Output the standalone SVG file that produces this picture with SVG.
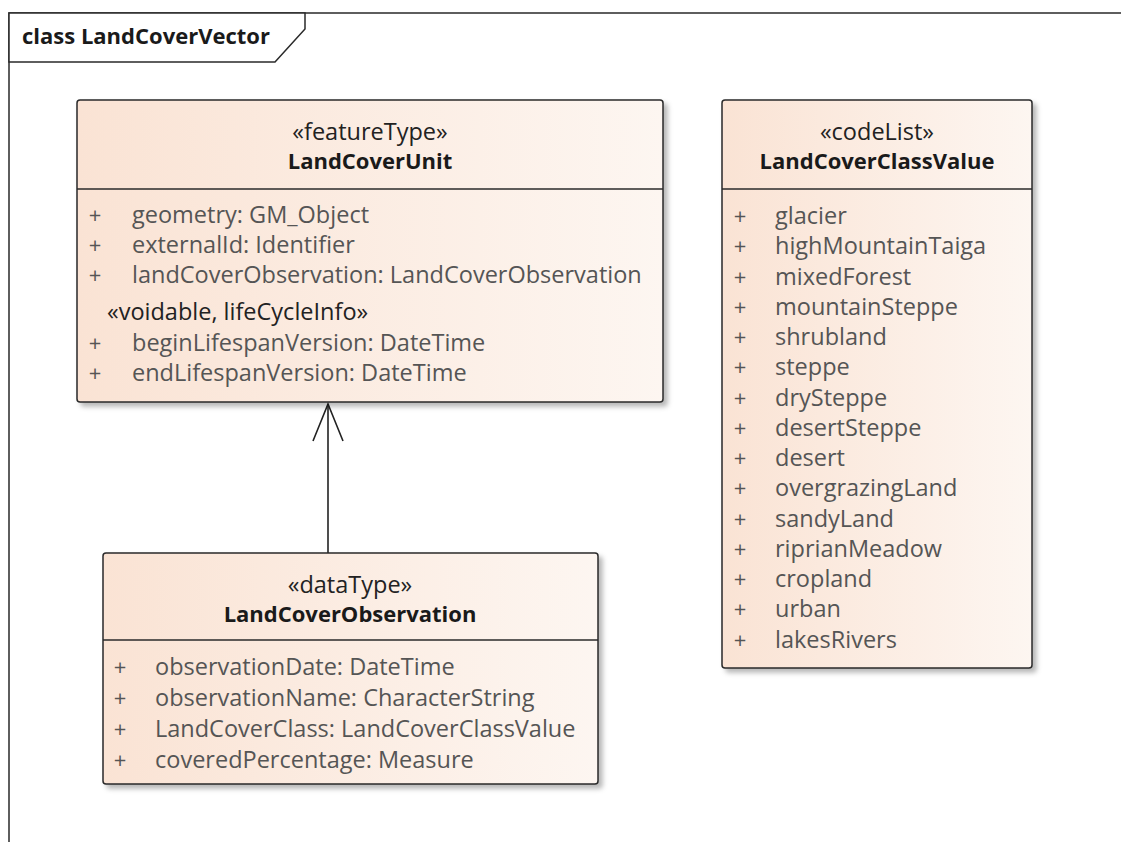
<svg xmlns="http://www.w3.org/2000/svg" width="1121" height="842" viewBox="0 0 1121 842">
<defs>
<linearGradient id="fillGrad" x1="0" y1="0" x2="1" y2="0">
<stop offset="0" stop-color="#fae3d4"/>
<stop offset="1" stop-color="#fdf6f1"/>
</linearGradient>
<filter id="shadow" x="-5%" y="-5%" width="115%" height="115%">
<feDropShadow dx="4" dy="4" stdDeviation="2.5" flood-color="#000" flood-opacity="0.28"/>
</filter>
<marker id="openArrow" viewBox="0 0 40 32" refX="38" refY="16" markerWidth="40" markerHeight="32" markerUnits="userSpaceOnUse" orient="auto">
<path d="M1,1 L38,16 L1,31" fill="none" stroke="#222" stroke-width="1.6"/>
</marker>
</defs>
<style>
.box{fill:url(#fillGrad);stroke:#2a2a2a;stroke-width:1.5;filter:url(#shadow)}
.div{stroke:#2a2a2a;stroke-width:1.5}
.st{font-family:"Open Sans","Noto Sans",sans-serif;font-size:23.5px;fill:#222;text-anchor:middle}
.nm{font-family:"Open Sans","Noto Sans",sans-serif;font-size:22px;font-weight:bold;fill:#1a1a1a;text-anchor:middle}
.at{font-family:"Open Sans","Noto Sans",sans-serif;font-size:23.5px;fill:#555}
.vs{font-family:"Open Sans","Noto Sans",sans-serif;font-size:23.5px;fill:#222}
.pl{font-family:"Open Sans","Noto Sans",sans-serif;font-size:22px;fill:#555;text-anchor:middle}
.conn{stroke:#222;stroke-width:1.6;fill:none}
</style>
<rect width="1121" height="842" fill="#ffffff"/>
<g id="frame">
<rect x="9" y="13" width="1125" height="840" fill="none" stroke="#2a2a2a" stroke-width="1.5"/>
<path d="M9,13 L305,13 L305,29 L275,62 L9,62 Z" fill="#ffffff" stroke="#2a2a2a" stroke-width="1.5"/>
<text x="22" y="44" font-family="Open Sans, Noto Sans, sans-serif" font-size="22" font-weight="bold" fill="#1a1a1a">class LandCoverVector</text>
</g>
<g id="connectors">
<line class="conn" x1="328" y1="553" x2="328" y2="404" marker-end="url(#openArrow)"/>
</g>
<g id="LandCoverUnit">
<rect class="box" x="77" y="100" width="586" height="302" rx="3"/>
<line class="div" x1="77" y1="189" x2="663" y2="189"/>
<text class="st" x="370" y="140">«featureType»</text>
<text class="nm" x="370" y="169">LandCoverUnit</text>
<text class="pl" x="95" y="223">+</text><text class="at" x="132" y="223">geometry: GM_Object</text>
<text class="pl" x="95" y="253">+</text><text class="at" x="132" y="253">externalId: Identifier</text>
<text class="pl" x="95" y="283">+</text><text class="at" x="132" y="283">landCoverObservation: LandCoverObservation</text>
<text class="vs" x="107" y="320">«voidable, lifeCycleInfo»</text>
<text class="pl" x="95" y="351">+</text><text class="at" x="132" y="351">beginLifespanVersion: DateTime</text>
<text class="pl" x="95" y="381">+</text><text class="at" x="132" y="381">endLifespanVersion: DateTime</text>
</g>
<g id="LandCoverClassValue">
<rect class="box" x="722" y="100" width="310" height="568" rx="3"/>
<line class="div" x1="722" y1="189" x2="1032" y2="189"/>
<text class="st" x="877" y="140">«codeList»</text>
<text class="nm" x="877" y="169">LandCoverClassValue</text>
<text class="pl" x="740" y="224">+</text><text class="at" x="775" y="224">glacier</text>
<text class="pl" x="740" y="254">+</text><text class="at" x="775" y="254">highMountainTaiga</text>
<text class="pl" x="740" y="285">+</text><text class="at" x="775" y="285">mixedForest</text>
<text class="pl" x="740" y="315">+</text><text class="at" x="775" y="315">mountainSteppe</text>
<text class="pl" x="740" y="345">+</text><text class="at" x="775" y="345">shrubland</text>
<text class="pl" x="740" y="375">+</text><text class="at" x="775" y="375">steppe</text>
<text class="pl" x="740" y="406">+</text><text class="at" x="775" y="406">drySteppe</text>
<text class="pl" x="740" y="436">+</text><text class="at" x="775" y="436">desertSteppe</text>
<text class="pl" x="740" y="466">+</text><text class="at" x="775" y="466">desert</text>
<text class="pl" x="740" y="496">+</text><text class="at" x="775" y="496">overgrazingLand</text>
<text class="pl" x="740" y="527">+</text><text class="at" x="775" y="527">sandyLand</text>
<text class="pl" x="740" y="557">+</text><text class="at" x="775" y="557">riprianMeadow</text>
<text class="pl" x="740" y="587">+</text><text class="at" x="775" y="587">cropland</text>
<text class="pl" x="740" y="617">+</text><text class="at" x="775" y="617">urban</text>
<text class="pl" x="740" y="648">+</text><text class="at" x="775" y="648">lakesRivers</text>
</g>
<g id="LandCoverObservation">
<rect class="box" x="103" y="553" width="495" height="231" rx="3"/>
<line class="div" x1="103" y1="640" x2="598" y2="640"/>
<text class="st" x="350" y="593">«dataType»</text>
<text class="nm" x="350" y="622">LandCoverObservation</text>
<text class="pl" x="120" y="675">+</text><text class="at" x="155" y="675">observationDate: DateTime</text>
<text class="pl" x="120" y="706">+</text><text class="at" x="155" y="706">observationName: CharacterString</text>
<text class="pl" x="120" y="737">+</text><text class="at" x="155" y="737">LandCoverClass: LandCoverClassValue</text>
<text class="pl" x="120" y="768">+</text><text class="at" x="155" y="768">coveredPercentage: Measure</text>
</g>
</svg>
